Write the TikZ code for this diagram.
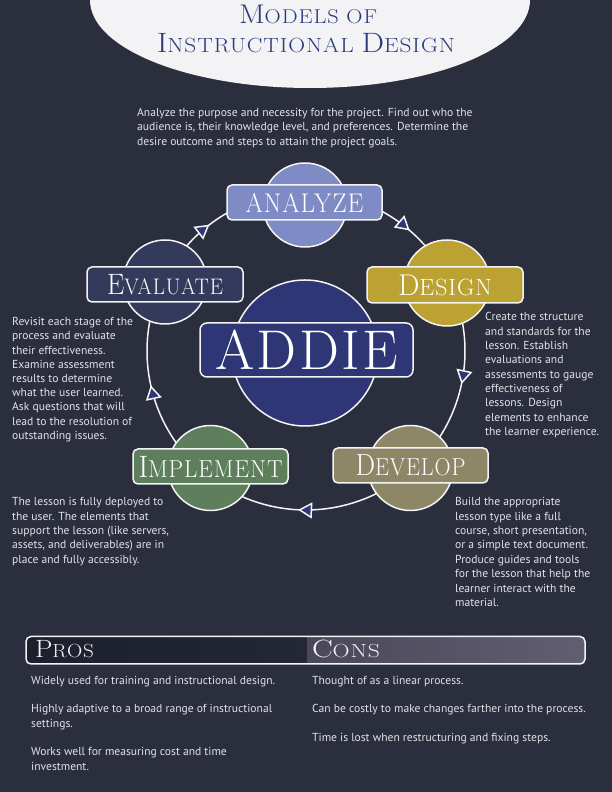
\documentclass[tikz,border=0pt]{standalone}
\usepackage{fontspec}
\usepackage{graphicx}
\usetikzlibrary{arrows.meta,decorations.markings,calc}
\newfontfamily\bodyfont{PT Sans}
\newfontfamily\capfont[LetterSpace=4]{Latin Modern Roman}
\definecolor{bg}{HTML}{2B2E3D}
\definecolor{paper}{HTML}{F3F3F5}
\definecolor{titleblue}{HTML}{2C3A7E}
\definecolor{cAnalyze}{HTML}{7E8BC4}
\definecolor{cDesign}{HTML}{BBA232}
\definecolor{cEvaluate}{HTML}{343A5C}
\definecolor{cAddie}{HTML}{2E3676}
\definecolor{cImplement}{HTML}{5E7F5C}
\definecolor{cDevelop}{HTML}{8E8767}
\definecolor{bodygray}{HTML}{E2E2E6}
\definecolor{edge}{HTML}{F4F4F6}
\definecolor{prosL}{HTML}{1C202D}
\definecolor{prosR}{HTML}{232736}
\definecolor{consL}{HTML}{4A4859}
\definecolor{consR}{HTML}{605E70}
\newsavebox\fitbx
\newcommand\fitto[2]{\sbox\fitbx{#2}\pgfmathsetmacro\fitr{#1/\the\wd\fitbx}\scalebox{\fitr}[1]{\usebox\fitbx}}
\newcommand\SC[4]{{\fontsize{#1pt}{#1pt}\selectfont #3}{\fontsize{#2pt}{#2pt}\selectfont #4}}
\newcommand\para[3]{\parbox[t]{#1}{\bodyfont\fontsize{11.6pt}{#2pt}\selectfont\raggedright #3}}
\tikzset{
  tri/.tip={Triangle[length=14pt,width=16pt,fill=cAddie]},
  ringline/.style={draw=edge, line width=1.5pt},
  arrmark/.style={postaction={decorate, decoration={markings, mark=at position #1 with {\arrow{tri}}}}},
  nodecirc/.style={circle, draw=edge, line width=1.5pt, inner sep=0pt},
  nodebox/.style={rectangle, rounded corners=5pt, draw=edge, line width=1.5pt, inner sep=0pt, text=white},
  bodytext/.style={inner sep=0pt, anchor=base west, text=bodygray},
  captext/.style={inner sep=0pt, anchor=base}
}
\begin{document}
\begin{tikzpicture}[x=1pt,y=1pt]
\useasboundingbox (0,0) rectangle (612,792);
\clip (0,0) rectangle (612,792);
\fill[bg] (0,0) rectangle (612,792);
% header
\fill[paper] (310,792) ellipse [x radius=220pt, y radius=88pt];
\node[captext, text=titleblue] (title1) at (308,768) {\fitto{138}{\capfont\SC{27}{20}{M}{ODELS OF}}};
\node[captext, text=titleblue] (title2) at (306,739) {\fitto{298}{\capfont\SC{28}{20.5}{I}{NSTRUCTIONAL }\SC{28}{20.5}{D}{ESIGN}}};

% ring coordinates
\coordinate (C) at (306,441);
\coordinate (rA) at ($(C)+(90:159pt)$);
\coordinate (rD) at ($(C)+(25.7:159pt)$);
\coordinate (rV) at ($(C)+(-48.2:159pt)$);
\coordinate (rI) at ($(C)+(-131.8:159pt)$);
\coordinate (rE) at ($(C)+(154.3:159pt)$);
% connectors
\draw[ringline, arrmark=0.633] (rA) arc[start angle=90, end angle=25.7, radius=159pt];
\draw[ringline, arrmark=0.51] (rD) arc[start angle=25.7, end angle=-48.2, radius=159pt];
\draw[ringline, arrmark=0.534] (rV) arc[start angle=-48.2, end angle=-131.8, radius=159pt];
\draw[ringline, arrmark=0.483] (rI) arc[start angle=228.2, end angle=154.3, radius=159pt];
\draw[ringline, arrmark=0.418] (rE) arc[start angle=154.3, end angle=90, radius=159pt];

% circles
\node[nodecirc, fill=cAnalyze, minimum size=84pt] (circAnalyze) at (305,587) {};
\node[nodecirc, fill=cDesign, minimum size=86pt] (circDesign) at (447,509) {};
\node[nodecirc, fill=cEvaluate, minimum size=84pt] (circEvaluate) at (165,510) {};
\node[nodecirc, fill=cAddie, minimum size=146pt] (circAddie) at (305,439) {};
\node[nodecirc, fill=cImplement, minimum size=85pt] (circImplement) at (210.5,324) {};
\node[nodecirc, fill=cDevelop, minimum size=85pt] (circDevelop) at (410.5,324) {};

% boxes
\node[nodebox, fill=cAnalyze, minimum width=155pt, minimum height=35pt] (analyze) at (304.5,589.5)
  {\fitto{118}{\capfont\fontsize{27pt}{27pt}\selectfont ANALYZE}};
\node[nodebox, fill=cDesign, minimum width=156pt, minimum height=36pt] (design) at (445,507)
  {\fitto{94}{\capfont\SC{30}{23.5}{D}{ESIGN}}};
\node[nodebox, fill=cEvaluate, minimum width=156pt, minimum height=35pt] (evaluate) at (165,507.5)
  {\fitto{116}{\capfont\SC{29.5}{22.5}{E}{VALUATE}}};
\node[nodebox, fill=cAddie, minimum width=213pt, minimum height=54pt, rounded corners=7pt] (addie) at (306.5,442)
  {\fitto{182}{\capfont\fontsize{56pt}{56pt}\selectfont ADDIE}};
\node[nodebox, fill=cImplement, minimum width=155pt, minimum height=35pt] (implement) at (210.5,325.5)
  {\fitto{144}{\capfont\SC{31}{24.5}{I}{MPLEMENT}}};
\node[nodebox, fill=cDevelop, minimum width=155pt, minimum height=35pt] (develop) at (410.5,326.5)
  {\fitto{110}{\capfont\SC{30.5}{24.5}{D}{EVELOP}}};

% descriptions
\node[bodytext] (tAnalyze) at (137,675.5) {\para{420pt}{14.3}{Analyze the purpose and necessity for the project. Find out who the\\audience is, their knowledge level, and preferences. Determine the\\desire outcome and steps to attain the project goals.}};
\node[bodytext] (tEvaluate) at (12,466.3) {\para{170pt}{14.2}{Revisit each stage of the\\process and evaluate\\their effectiveness.\\Examine assessment\\results to determine\\what the user learned.\\Ask questions that will\\lead to the resolution of\\outstanding issues.}};
\node[bodytext] (tDesign) at (485,471) {\para{150pt}{14.3}{Create the structure\\and standards for the\\lesson. Establish\\evaluations and\\assessments to gauge\\effectiveness of\\lessons. Design\\elements to enhance\\the learner experience.}};
\node[bodytext] (tImplement) at (12,286.3) {\para{200pt}{14.4}{The lesson is fully deployed to\\the user. The elements that\\support the lesson (like servers,\\assets, and deliverables) are in\\place and fully accessibly.}};
\node[bodytext] (tDevelop) at (455,286.3) {\para{180pt}{14.4}{Build the appropriate\\lesson type like a full\\course, short presentation,\\or a simple text document.\\Produce guides and tools\\for the lesson that help the\\learner interact with the\\material.}};

% pros / cons bar
\begin{scope}
\clip[rounded corners=5pt] (26,128) rectangle (585,155.5);
\shade[left color=prosL, right color=prosR] (26,128) rectangle (307,155.5);
\shade[left color=consL, right color=consR] (307,128) rectangle (585,155.5);
\end{scope}
\node[draw=edge, line width=1.5pt, rounded corners=5pt, minimum width=559pt, minimum height=27.5pt, inner sep=0pt] (bar) at (305.5,141.75) {};
\node[captext, text=edge] (pros) at (64.5,134) {\fitto{59}{\capfont\SC{25}{19}{P}{ROS}}};
\node[captext, text=edge] (cons) at (346,134) {\fitto{68}{\capfont\SC{25}{19}{C}{ONS}}};

\node[bodytext] (p1) at (31,107) {\para{300pt}{14.5}{Widely used for training and instructional design.}};
\node[bodytext] (p2) at (31,79.3) {\para{300pt}{14.5}{Highly adaptive to a broad range of instructional\\settings.}};
\node[bodytext] (p3) at (31,36) {\para{300pt}{14.5}{Works well for measuring cost and time\\investment.}};
\node[bodytext] (c1) at (312,107) {\para{320pt}{14.5}{Thought of as a linear process.}};
\node[bodytext] (c2) at (312,79.3) {\para{320pt}{14.5}{Can be costly to make changes farther into the process.}};
\node[bodytext] (c3) at (312,50.5) {\para{320pt}{14.5}{Time is lost when restructuring and fixing steps.}};
\end{tikzpicture}
\end{document}
